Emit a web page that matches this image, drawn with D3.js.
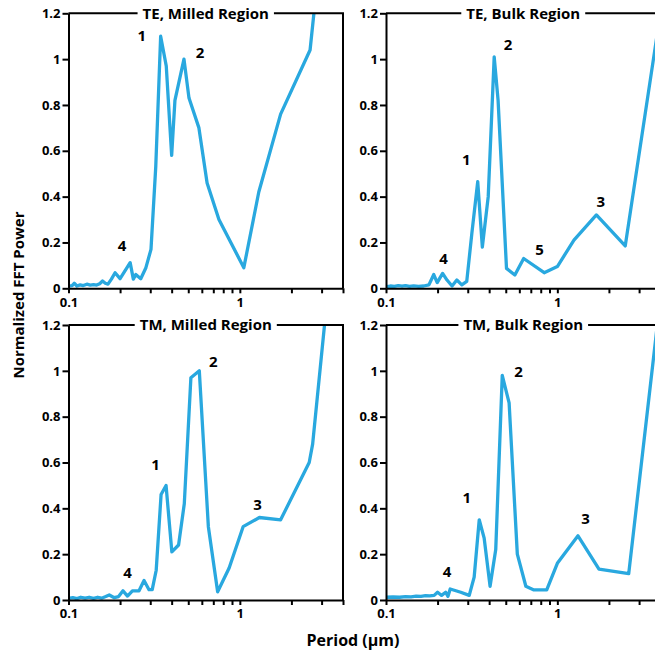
<!DOCTYPE html>
<html>
<head>
<meta charset="utf-8">
<script src="https://cdn.jsdelivr.net/npm/d3@7.9.0/dist/d3.min.js"></script>
<style>
  body { margin: 0; background: #fff; }
  svg { display: block; font-family: "Open Sans", sans-serif; font-weight: bold; }
</style>
</head>
<body>
<svg id="chart" width="655" height="651"></svg>
<script>
// period (um), normalized FFT power
const teMilled = [
  [0.100,0.010],[0.105,0.012],[0.108,0.022],[0.112,0.010],[0.117,0.015],[0.122,0.012],
  [0.128,0.018],[0.134,0.014],[0.140,0.016],[0.146,0.014],[0.152,0.020],[0.158,0.032],
  [0.164,0.022],[0.170,0.018],[0.178,0.040],[0.187,0.068],[0.200,0.042],[0.229,0.112],
  [0.239,0.040],[0.247,0.060],[0.264,0.042],[0.283,0.090],[0.303,0.170],[0.323,0.53],
  [0.345,1.10],[0.372,0.97],[0.400,0.58],[0.418,0.82],[0.472,1.00],[0.505,0.83],
  [0.577,0.70],[0.644,0.46],[0.755,0.30],[1.055,0.09],[1.29,0.42],[1.73,0.76],
  [2.57,1.04],[2.75,1.25],[2.9,1.5]
];
const teBulk = [
  [0.100,0.007],[0.106,0.010],[0.112,0.008],[0.118,0.012],[0.124,0.009],[0.130,0.012],
  [0.137,0.008],[0.145,0.011],[0.155,0.008],[0.166,0.010],[0.178,0.015],[0.190,0.060],
  [0.199,0.025],[0.214,0.065],[0.227,0.036],[0.243,0.010],[0.259,0.036],[0.277,0.015],
  [0.296,0.030],[0.317,0.24],[0.343,0.465],[0.365,0.18],[0.395,0.40],[0.428,1.01],
  [0.451,0.82],[0.505,0.087],[0.565,0.058],[0.636,0.13],[0.838,0.068],[1.0,0.095],
  [1.25,0.21],[1.69,0.32],[2.49,0.185],[3.9,1.15]
];
const tmMilled = [
  [0.100,0.007],[0.106,0.010],[0.112,0.006],[0.118,0.012],[0.125,0.008],[0.132,0.012],
  [0.140,0.007],[0.148,0.012],[0.156,0.008],[0.165,0.015],[0.173,0.022],[0.185,0.010],
  [0.196,0.015],[0.208,0.040],[0.221,0.017],[0.236,0.040],[0.258,0.040],[0.276,0.085],
  [0.295,0.045],[0.308,0.045],[0.325,0.13],[0.347,0.46],[0.371,0.50],[0.401,0.21],
  [0.439,0.24],[0.474,0.42],[0.518,0.97],[0.580,1.00],[0.655,0.32],[0.742,0.036],
  [0.866,0.14],[1.045,0.32],[1.30,0.36],[1.73,0.35],[2.54,0.60],[2.66,0.68],
  [3.12,1.2],[3.4,1.5]
];
const tmBulk = [
  [0.100,0.012],[0.110,0.013],[0.120,0.012],[0.130,0.015],[0.140,0.014],[0.150,0.017],
  [0.160,0.016],[0.170,0.019],[0.180,0.018],[0.191,0.020],[0.200,0.034],[0.211,0.020],
  [0.223,0.034],[0.230,0.016],[0.237,0.048],[0.273,0.034],[0.306,0.020],[0.327,0.10],
  [0.350,0.35],[0.374,0.27],[0.405,0.06],[0.437,0.22],[0.477,0.98],[0.523,0.86],
  [0.584,0.20],[0.655,0.06],[0.730,0.044],[0.867,0.044],[1.0,0.16],[1.32,0.28],
  [1.75,0.135],[2.61,0.115],[3.9,1.25]
];

// peak labels: [text, period, power]
const teMilledPeaks = [["1",0.268,1.10],["2",0.585,1.03],["4",0.205,0.185]];
const teBulkPeaks = [["1",0.294,0.56],["2",0.516,1.062],["3",1.79,0.378],["4",0.217,0.127],["5",0.787,0.167]];
const tmMilledPeaks = [["1",0.322,0.589],["2",0.701,1.04],["3",1.27,0.417],["4",0.221,0.119]];
const tmBulkPeaks = [["1",0.296,0.446],["2",0.593,0.996],["3",1.46,0.354],["4",0.227,0.124]];

const titles = ["TE, Milled Region", "TE, Bulk Region", "TM, Milled Region", "TM, Bulk Region"];
const series = [teMilled, teBulk, tmMilled, tmBulk];
const peaks = [teMilledPeaks, teBulkPeaks, tmMilledPeaks, tmBulkPeaks];

const xDomain = [0.1, 4];
const yDomain = [0, 1.2];
const xTicks = [0.1,0.2,0.3,0.4,0.5,0.6,0.7,0.8,0.9,1,2,3,4];
const xLabels = [0.1, 1];
const yTicks = [0, 0.2, 0.4, 0.6, 0.8, 1, 1.2];

const svg = d3.select('#chart');
const lefts = [68.5, 386];
const tops = [13.3, 325];
const w = 274.5, h = 275;
const blue = '#29a8df';

series.forEach((data, i) => {
  const x0 = lefts[i % 2], y0 = tops[Math.floor(i / 2)];
  const x = d3.scaleLog().domain(xDomain).range([x0, x0 + w]);
  const y = d3.scaleLinear().domain(yDomain).range([y0 + h, y0]);

  svg.append('clipPath').attr('id', 'clip' + i)
    .append('rect').attr('x', x0).attr('y', y0).attr('width', w).attr('height', h);

  const line = d3.line().x(d => x(d[0])).y(d => y(d[1]));
  svg.append('path')
    .datum(data)
    .attr('clip-path', `url(#clip${i})`)
    .attr('fill', 'none')
    .attr('stroke', blue)
    .attr('stroke-width', 3.3)
    .attr('stroke-linejoin', 'round')
    .attr('d', line);

  // frame: top and right
  svg.append('path')
    .attr('d', `M${x0},${y0}H${x0 + w}V${y0 + h}`)
    .attr('fill', 'none').attr('stroke', '#000').attr('stroke-width', 2);

  // axes
  const xAxis = svg.append('g')
    .attr('transform', `translate(0,${y0 + h})`)
    .call(d3.axisBottom(x).tickValues(xTicks).tickSize(5).tickSizeOuter(0).tickPadding(4)
      .tickFormat(d => xLabels.includes(d) ? d3.format('')(d) : ''));
  const yAxis = svg.append('g')
    .attr('transform', `translate(${x0},0)`)
    .call(d3.axisLeft(y).tickValues(yTicks).tickSize(6).tickSizeOuter(0).tickPadding(2)
      .tickFormat(d3.format('')));
  [xAxis, yAxis].forEach(a => {
    a.selectAll('path, line').attr('stroke', '#000').attr('stroke-width', 2);
    a.selectAll('text').attr('fill', '#000')
      .style('font-family', '"Open Sans", sans-serif')
      .style('font-weight', 'bold').style('font-size', '13px');
  });

  // title sitting on the top frame line
  const t = svg.append('text')
    .attr('x', x0 + w / 2).attr('y', y0)
    .attr('text-anchor', 'middle').attr('dy', '0.35em')
    .style('font-size', '15px')
    .text(titles[i]);
  const bb = t.node().getBBox();
  svg.insert('rect', () => t.node())
    .attr('x', bb.x - 5).attr('y', y0 - 3).attr('width', bb.width + 10).attr('height', 6)
    .attr('fill', '#fff');

  // peak numbers
  svg.selectAll(null).data(peaks[i]).join('text')
    .attr('x', d => x(d[1])).attr('y', d => y(d[2]))
    .attr('text-anchor', 'middle').attr('dy', '0.35em')
    .style('font-size', '15px')
    .text(d => d[0]);
});

svg.append('text')
  .attr('transform', 'translate(19,295) rotate(-90)')
  .attr('text-anchor', 'middle').attr('dy', '0.35em')
  .style('font-size', '15px')
  .text('Normalized FFT Power');

svg.append('text')
  .attr('x', 353).attr('y', 640)
  .attr('text-anchor', 'middle').attr('dy', '0.35em')
  .style('font-size', '16px')
  .text('Period (μm)');
</script>
</body>
</html>
